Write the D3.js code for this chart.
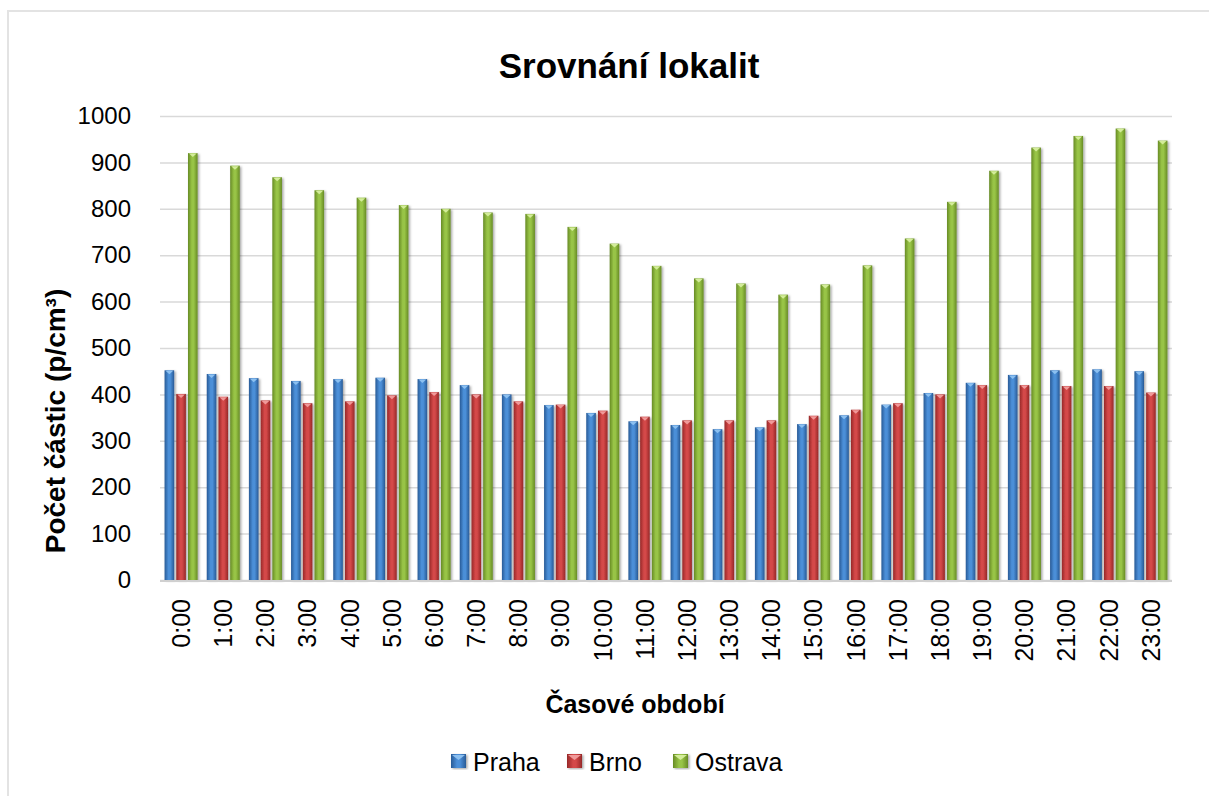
<!DOCTYPE html>
<html>
<head>
<meta charset="utf-8">
<script src="https://cdn.jsdelivr.net/npm/d3@7"></script>
<style>
  body { margin: 0; background: #fff; overflow: hidden; }
  svg { display: block; }
  text { font-family: "Liberation Sans", Arial, sans-serif; fill: #000; }
</style>
</head>
<body>
<div class="canvas"></div>
<script>
const hours = ["0:00", "1:00", "2:00", "3:00", "4:00", "5:00", "6:00", "7:00", "8:00", "9:00", "10:00", "11:00",
    "12:00", "13:00", "14:00", "15:00", "16:00", "17:00", "18:00", "19:00", "20:00", "21:00", "22:00", "23:00"];
const cities = ["Praha", "Brno", "Ostrava"];
const praha = [452, 444, 435, 429, 433, 436, 433, 420, 400, 377, 360, 342, 334, 325, 329, 336, 355, 378, 403, 425, 442, 452, 454, 450];
const brno = [401, 395, 387, 381, 385, 398, 405, 400, 385, 378, 365, 352, 344, 344, 344, 354, 367, 381, 400, 420, 420, 418, 418, 404];
const ostrava = [920, 893, 868, 840, 824, 808, 800, 792, 789, 761, 725, 677, 650, 639, 615, 637, 678, 736, 815, 882, 932, 957, 973, 947];
const yTicks = [0, 100, 200, 300, 400, 500, 600, 700, 800, 900, 1000];

const colours = {
    Praha: { edge: "#285a96", mid: "#4b8fd8", cap: "#8cc0f0" },
    Brno: { edge: "#962828", mid: "#d44848", cap: "#f09a9a" },
    Ostrava: { edge: "#678b25", mid: "#98c446", cap: "#d3ec9a" }
};

const width = 1209;
const height = 796;
const margin = { top: 116, right: 37, bottom: 216, left: 160 };
const graphWidth = width - margin.left - margin.right;
const graphHeight = height - margin.top - margin.bottom;

const data = hours.map((h, i) => ({ hour: h, Praha: praha[i], Brno: brno[i], Ostrava: ostrava[i] }));

const svg = d3.select(".canvas")
    .append("svg")
    .attr("width", width)
    .attr("height", height);

const defs = svg.append("defs");
cities.forEach(c => {
    const grad = defs.append("linearGradient")
        .attr("id", "grad-" + c)
        .attr("x1", "0%").attr("x2", "100%")
        .attr("y1", "0%").attr("y2", "0%");
    grad.append("stop").attr("offset", "0%").attr("stop-color", colours[c].edge);
    grad.append("stop").attr("offset", "40%").attr("stop-color", colours[c].mid);
    grad.append("stop").attr("offset", "60%").attr("stop-color", colours[c].mid);
    grad.append("stop").attr("offset", "100%").attr("stop-color", colours[c].edge);
});
const shadow = defs.append("filter")
    .attr("id", "shadow")
    .attr("x", "-50%").attr("y", "-10%")
    .attr("width", "200%").attr("height", "120%");
shadow.append("feDropShadow")
    .attr("dx", 1.5).attr("dy", 1)
    .attr("stdDeviation", 1.2)
    .attr("flood-color", "#000")
    .attr("flood-opacity", 0.35);

// chart border (only top and left edges are visible)
svg.append("path")
    .attr("d", `M8,${height} L8,11 L${width},11`)
    .attr("fill", "none")
    .attr("stroke", "#e3e3e3")
    .attr("stroke-width", 2);

const graph = svg.append("g")
    .attr("transform", `translate(${margin.left}, ${margin.top})`);

const y = d3.scaleLinear()
    .domain([0, 1000])
    .range([graphHeight, 0]);
const x0 = d3.scaleBand()
    .domain(hours)
    .range([0, graphWidth]);
const x1 = d3.scaleBand()
    .domain(cities)
    .range([0, x0.bandwidth()])
    .paddingInner(0.18)
    .paddingOuter(0.39);

// gridlines
const grid = graph.append("g")
    .call(d3.axisLeft(y).tickValues(yTicks).tickSize(-graphWidth).tickFormat(""));
grid.select(".domain").remove();
grid.selectAll("line")
    .attr("stroke", "#d9d9d9")
    .attr("stroke-width", 1.5);

// y axis labels
const yAxisGroup = graph.append("g")
    .attr("transform", "translate(-29, 0)")
    .call(d3.axisLeft(y).tickValues(yTicks).tickSize(0).tickPadding(0).tickFormat(d => d));
yAxisGroup.select(".domain").remove();
yAxisGroup.selectAll("text")
    .attr("font-size", 24)
    .attr("font-family", "Liberation Sans, Arial, sans-serif")
    .attr("fill", "#000");

// bars
const groups = graph.selectAll("g.hour")
    .data(data)
    .enter()
    .append("g")
    .attr("class", "hour")
    .attr("transform", d => `translate(${x0(d.hour)}, 0)`);

const bars = groups.selectAll("g.bar")
    .data(d => cities.map(c => ({ city: c, value: d[c] })))
    .enter()
    .append("g")
    .attr("class", "bar");

bars.append("rect")
    .attr("x", d => x1(d.city))
    .attr("y", d => y(d.value))
    .attr("width", x1.bandwidth())
    .attr("height", d => graphHeight - y(d.value))
    .attr("fill", d => `url(#grad-${d.city})`)
    .attr("filter", "url(#shadow)");

bars.append("path")
    .attr("d", d => {
        const bx = x1(d.city);
        const by = y(d.value);
        const w = x1.bandwidth();
        return `M${bx + 1},${by + 0.5} L${bx + w - 1},${by + 0.5} L${bx + w / 2},${by + 4} Z`;
    })
    .attr("fill", d => colours[d.city].cap);

// x axis line
graph.append("line")
    .attr("x1", 0).attr("x2", graphWidth)
    .attr("y1", graphHeight + 1).attr("y2", graphHeight + 1)
    .attr("stroke", "#d0d0d0")
    .attr("stroke-width", 2);

// x axis labels
const xAxisGroup = graph.append("g")
    .attr("transform", `translate(0, ${graphHeight})`)
    .call(d3.axisBottom(x0).tickSize(0).tickPadding(0));
xAxisGroup.select(".domain").remove();
xAxisGroup.selectAll("text")
    .attr("font-size", 25)
    .attr("font-family", "Liberation Sans, Arial, sans-serif")
    .attr("fill", "#000")
    .attr("text-anchor", "end")
    .attr("dy", "0.35em")
    .attr("transform", "translate(0, 19) rotate(-90)");

// titles
svg.append("text")
    .attr("x", 629).attr("y", 78)
    .attr("text-anchor", "middle")
    .attr("font-size", 35)
    .attr("font-weight", "bold")
    .text("Srovnání lokalit");

svg.append("text")
    .attr("x", 635).attr("y", 713)
    .attr("text-anchor", "middle")
    .attr("font-size", 25)
    .attr("font-weight", "bold")
    .text("Časové období");

svg.append("text")
    .attr("transform", "translate(65, 421) rotate(-90)")
    .attr("text-anchor", "middle")
    .attr("font-size", 28)
    .attr("font-weight", "bold")
    .text("Počet částic (p/cm³)");

// legend
const legendX = [451, 567, 673];
const legend = svg.selectAll("g.legend")
    .data(cities)
    .enter()
    .append("g")
    .attr("class", "legend")
    .attr("transform", (d, i) => `translate(${legendX[i]}, 754)`);
legend.append("rect")
    .attr("width", 15).attr("height", 14)
    .attr("fill", d => `url(#grad-${d})`)
    .attr("filter", "url(#shadow)");
legend.append("path")
    .attr("d", "M1,1 L14,1 L7.5,6 Z")
    .attr("fill", d => colours[d].cap);
legend.append("text")
    .attr("x", 22).attr("y", 17)
    .attr("font-size", 25)
    .text(d => d);
</script>
</body>
</html>
